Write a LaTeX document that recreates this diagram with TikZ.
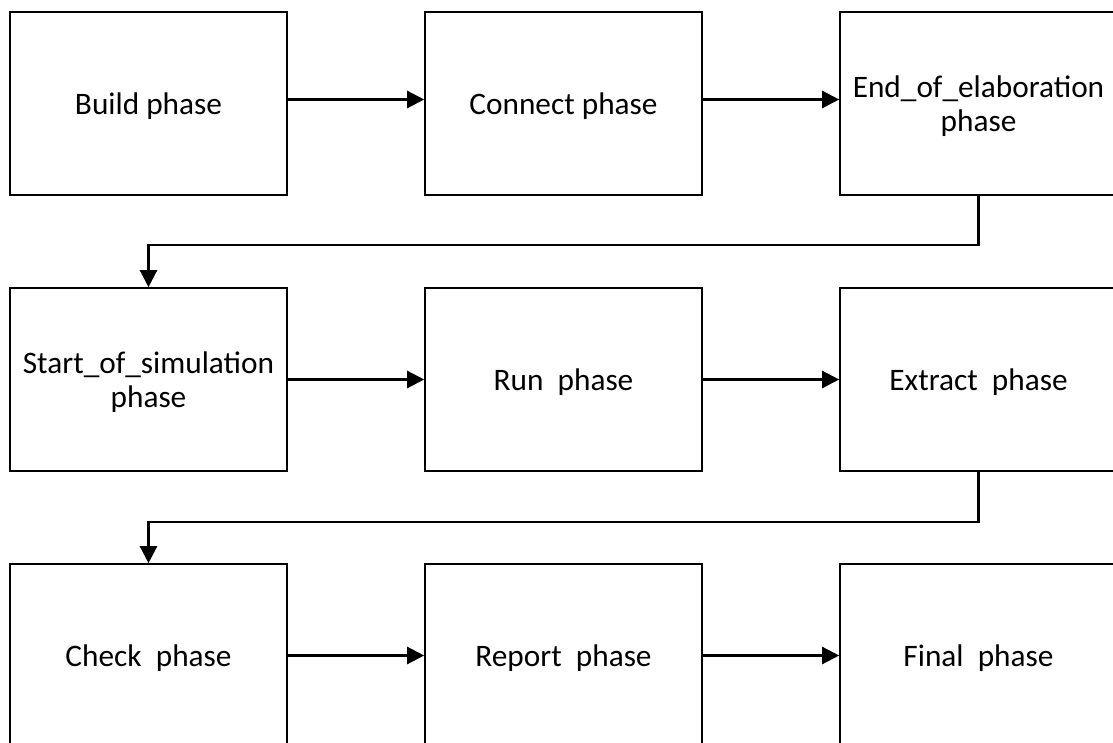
\documentclass[tikz,border=0pt]{standalone}
\usepackage{fontspec}
\setmainfont{Carlito}
\usetikzlibrary{arrows.meta}
\begin{document}
\begin{tikzpicture}[x=1pt,y=-1pt,
  phasebox/.style={draw=black, line width=1.6pt, fill=white,
    minimum width=277pt, minimum height=183pt, inner sep=0pt},
  phasetext/.style={align=center, inner sep=0pt, yshift=-3pt,
    font=\fontsize{31.3}{34}\selectfont},
  flow/.style={line width=2.3pt, -{Triangle[length=17pt,width=17pt]}}]
  \useasboundingbox (0,0) rectangle (1113,743);
  % first row
  \node[phasebox, label={[phasetext]center:Build phase}] (build) at (148.5,103.5) {};
  \node[phasebox, label={[phasetext]center:Connect phase}] (connect) at (563.5,103.5) {};
  \node[phasebox, label={[phasetext]center:End\_of\_elaboration\\phase}] (eoe) at (978.5,103.5) {};
  % second row
  \node[phasebox, label={[phasetext]center:Start\_of\_simulation\\phase}] (sos) at (148.5,379.5) {};
  \node[phasebox, label={[phasetext]center:Run\ \ phase}] (run) at (563.5,379.5) {};
  \node[phasebox, label={[phasetext]center:Extract\ \ phase}] (extract) at (978.5,379.5) {};
  % third row
  \node[phasebox, label={[phasetext]center:Check\ \ phase}] (check) at (148.5,655.5) {};
  \node[phasebox, label={[phasetext]center:Report\ \ phase}] (report) at (563.5,655.5) {};
  \node[phasebox, label={[phasetext]center:Final\ \ phase}] (final) at (978.5,655.5) {};
  % horizontal flow within each row
  \draw[flow] ([yshift=4pt]build.east) -- ([yshift=4pt]connect.west);
  \draw[flow] ([yshift=4pt]connect.east) -- ([yshift=4pt]eoe.west);
  \draw[flow] (sos.east) -- (run.west);
  \draw[flow] (run.east) -- (extract.west);
  \draw[flow] (check.east) -- (report.west);
  \draw[flow] (report.east) -- (final.west);
  % wrap-around connectors between rows
  \draw[flow] (eoe.south) -- ++(0,49) -| (sos.north);
  \draw[flow] (extract.south) -- ++(0,50) -| (check.north);
\end{tikzpicture}
\end{document}
